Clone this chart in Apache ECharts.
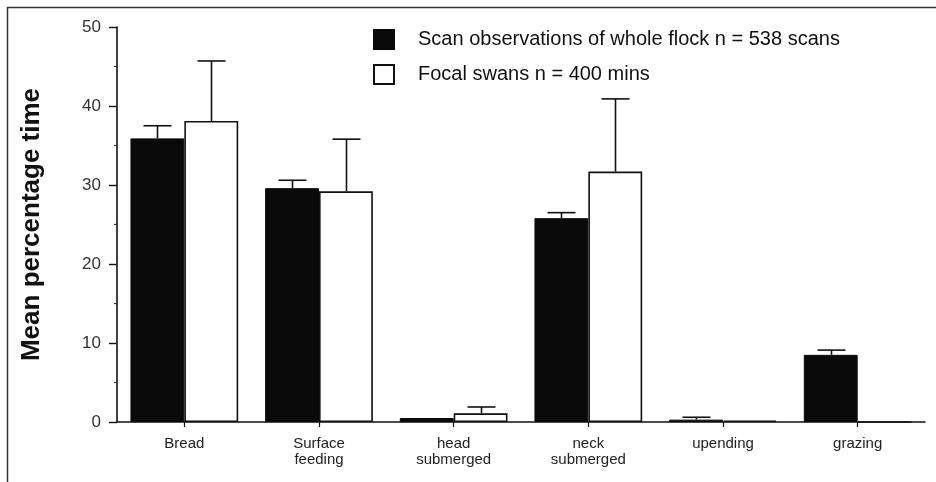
<!DOCTYPE html>
<html>
<head>
<meta charset="utf-8">
<script src="https://cdn.jsdelivr.net/npm/echarts@6/dist/echarts.min.js"></script>
<style>
  html, body { margin: 0; padding: 0; background: #fff; }
  #chart { width: 936px; height: 482px; }
</style>
</head>
<body>
<div id="chart"></div>
<script>
// Feeding behaviour categories
var categories = ['Bread', 'Surface\nfeeding', 'head\nsubmerged', 'neck\nsubmerged', 'upending', 'grazing'];

// Scan observations of whole flock: mean % time and standard error
var scanMean = [35.9, 29.6, 0.5, 25.8, 0.3, 8.5];
var scanSE   = [1.6, 1.0, 0, 0.7, 0.3, 0.6];

// Focal swans: mean % time and standard error
var focalMean = [38.1, 29.2, 1.1, 31.7, 0.2, 0];
var focalSE   = [7.6, 6.6, 0.8, 9.2, 0, 0];

// Y axis ticks
var yMin = 0, yMax = 50, yStep = 10;

var scanName = 'Scan observations of whole flock n = 538 scans';
var focalName = 'Focal swans n = 400 mins';

var FONT = '"Liberation Sans", Arial, Helvetica, sans-serif';

function errData(means, ses) {
  var out = [];
  for (var i = 0; i < means.length; i++) {
    if (ses[i] > 0) out.push([i, means[i], means[i] + ses[i]]);
  }
  return out;
}

// Draws a T-shaped upper error bar over one bar of the pair
function errorRenderer(side) {
  return function (params, api) {
    var idx = api.value(0);
    var base = api.coord([idx, api.value(1)]);
    var top = api.coord([idx, api.value(2)]);
    var band = api.size([1, 0])[0];
    var bw = band * 0.4;
    var x = Math.round(base[0] + side * bw / 2) + 0.5;
    var cap = 14;
    var style = { stroke: '#111', lineWidth: 1.6, fill: null };
    return {
      type: 'group',
      children: [
        { type: 'line', shape: { x1: x, y1: base[1], x2: x, y2: top[1] }, style: style },
        { type: 'line', shape: { x1: x - cap, y1: top[1], x2: x + cap, y2: top[1] }, style: style }
      ]
    };
  };
}

var chart = echarts.init(document.getElementById('chart'), null, { renderer: 'canvas' });

chart.setOption({
  animation: false,
  backgroundColor: '#fff',
  textStyle: { fontFamily: FONT },
  grid: { left: 117, right: 11, top: 27, bottom: 60, containLabel: false },
  legend: {
    data: [scanName, focalName],
    orient: 'vertical',
    left: 373,
    top: 29,
    padding: 0,
    itemWidth: 20,
    itemHeight: 19,
    itemGap: 14,
    icon: 'rect',
    selectedMode: false,
    textStyle: { fontFamily: FONT, fontSize: 20, color: '#111', padding: [0, 0, 0, 19] }
  },
  xAxis: {
    type: 'category',
    data: categories,
    axisLine: { show: true, lineStyle: { color: '#111', width: 1.6 } },
    axisTick: { show: true, alignWithLabel: true, length: 5, lineStyle: { color: '#111', width: 1.2 } },
    axisLabel: { fontFamily: FONT, fontSize: 15, color: '#222', margin: 14, lineHeight: 16, interval: 0 },
    splitLine: { show: false }
  },
  yAxis: {
    type: 'value',
    min: yMin,
    max: yMax,
    interval: yStep,
    name: 'Mean percentage time',
    nameLocation: 'middle',
    nameGap: 72,
    nameRotate: 90,
    nameTextStyle: { fontFamily: FONT, fontSize: 26, fontWeight: 'bold', color: '#111' },
    axisLine: { show: true, lineStyle: { color: '#111', width: 1.6 } },
    axisTick: { show: true, length: 8, lineStyle: { color: '#111', width: 1.4 } },
    minorTick: { show: true, splitNumber: 2, length: 3, lineStyle: { color: '#333', width: 1.2 } },
    axisLabel: { fontFamily: FONT, fontSize: 17, color: '#333', margin: 16 },
    splitLine: { show: false }
  },
  series: [
    {
      name: scanName,
      type: 'bar',
      data: scanMean,
      barGap: '0%',
      barCategoryGap: '20%',
      itemStyle: { color: '#0a0a0a', borderColor: '#0a0a0a', borderWidth: 1 }
    },
    {
      name: focalName,
      type: 'bar',
      data: focalMean,
      barGap: '0%',
      barCategoryGap: '20%',
      itemStyle: { color: '#ffffff', borderColor: '#111', borderWidth: 1.6 }
    },
    {
      name: 'scanError',
      type: 'custom',
      renderItem: errorRenderer(-1),
      data: errData(scanMean, scanSE),
      encode: { x: 0, y: [1, 2] },
      z: 5
    },
    {
      name: 'focalError',
      type: 'custom',
      renderItem: errorRenderer(1),
      data: errData(focalMean, focalSE),
      encode: { x: 0, y: [1, 2] },
      z: 5
    }
  ],
  graphic: [
    { type: 'line', shape: { x1: 7, y1: 7.5, x2: 936, y2: 7.5 }, style: { stroke: '#333', lineWidth: 1.5 } },
    { type: 'line', shape: { x1: 7.5, y1: 7, x2: 7.5, y2: 482 }, style: { stroke: '#333', lineWidth: 1.5 } }
  ]
});
</script>
</body>
</html>
